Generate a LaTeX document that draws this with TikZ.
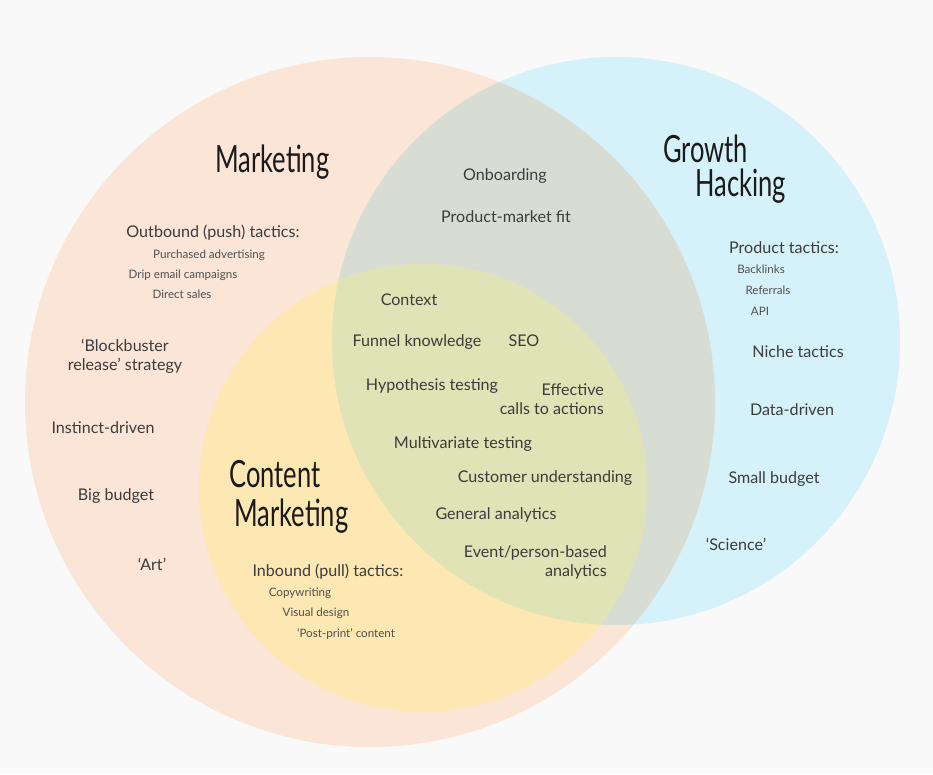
\documentclass[tikz,border=0pt]{standalone}
\usepackage{fontspec}
\setmainfont{Lato}
\newfontfamily\titlefont[FakeStretch=0.68]{Lato}
\definecolor{bg}{HTML}{F9F9F9}
\definecolor{peach}{HTML}{FBE5D7}
\definecolor{skyb}{HTML}{D5F1FA}
\definecolor{pbmix}{HTML}{D8DDD3}
\definecolor{yel}{HTML}{FDE7B2}
\definecolor{trimix}{HTML}{DFE3B5}
\definecolor{txt}{HTML}{3C3C3C}
\definecolor{txtsmall}{HTML}{505050}
\definecolor{ttl}{HTML}{1A1A1A}
\tikzset{
  lbl/.style={font=\fontsize{16.1}{19}\selectfont, text=txt, inner sep=0pt, text height=1.2em, text depth=0.1em},
  lbltwo/.style={font=\fontsize{16.1}{19}\selectfont, text=txt, inner sep=0pt},
  small/.style={font=\fontsize{11.6}{14}\selectfont, text=txtsmall, inner sep=0pt, text height=1.05em, text depth=0.1em},
  title/.style={font=\titlefont\fontsize{37.5}{40}\selectfont, text=ttl, inner sep=0pt, anchor=base west},
}
\begin{document}
\begin{tikzpicture}[x=1pt,y=-1pt]
\useasboundingbox (0,0) rectangle (933,774);
\fill[bg] (0,0) rectangle (933,774);
% circles
\fill[peach] (370,402) circle[radius=345pt];
\fill[skyb] (616,341) circle[radius=284pt];
\begin{scope}
  \clip (370,402) circle[radius=345pt];
  \fill[pbmix] (616,341) circle[radius=284pt];
\end{scope}
\fill[yel] (423,488) circle[radius=224pt];
\begin{scope}
  \clip (423,488) circle[radius=224pt];
  \fill[trimix] (616,341) circle[radius=284pt];
\end{scope}
% titles
\node[title] (tmk) at (215,172) {Marketing};
\node[title] (tgr) at (663,162) {Growth};
\node[title] (tha) at (695,196) {Hacking};
\node[title] (tco) at (229,487) {Content};
\node[title] (tcm) at (234,526) {Marketing};
% marketing
\node[lbl] (outb) at (213,232) {Outbound (push) tactics:};
\node[small] (purch) at (209,254) {Purchased advertising};
\node[small] (drip) at (183,274) {Drip email campaigns};
\node[small] (dirs) at (182,294) {Direct sales};
\node[lbltwo, align=center] (block) at (125,356) {`Blockbuster\\release' strategy};
\node[lbl] (inst) at (103,428) {Instinct-driven};
\node[lbl] (bigb) at (116,495) {Big budget};
\node[lbl] (art) at (152,565) {`Art'};
% marketing & growth
\node[lbl] (onb) at (505,175) {Onboarding};
\node[lbl] (pmf) at (506,217) {Product-market fit};
% centre
\node[lbl] (ctx) at (409,300) {Context};
\node[lbl] (fun) at (417,341) {Funnel knowledge};
\node[lbl] (seo) at (524,341) {SEO};
\node[lbl] (hyp) at (432,385) {Hypothesis testing};
\node[lbltwo, align=right, anchor=east] (cta) at (604,399) {Effective\\calls to actions};
\node[lbl] (mvt) at (463,443) {Multivariate testing};
\node[lbl] (cust) at (545,477) {Customer understanding};
\node[lbl] (gen) at (496,514) {General analytics};
\node[lbltwo, align=right, anchor=east] (evt) at (607,562) {Event/person-based\\analytics};
% content marketing
\node[lbl] (inb) at (328,571) {Inbound (pull) tactics:};
\node[small] (copy) at (300,592) {Copywriting};
\node[small] (vis) at (316,612) {Visual design};
\node[small] (post) at (346,633) {`Post-print' content};
% growth hacking
\node[lbl] (prod) at (784,248) {Product tactics:};
\node[small] (back) at (761,269) {Backlinks};
\node[small] (ref) at (768,290) {Referrals};
\node[small] (api) at (760,311) {API};
\node[lbl] (niche) at (798,352) {Niche tactics};
\node[lbl] (data) at (792,410) {Data-driven};
\node[lbl] (smb) at (774,478) {Small budget};
\node[lbl] (sci) at (736,545) {`Science'};
\end{tikzpicture}
\end{document}
